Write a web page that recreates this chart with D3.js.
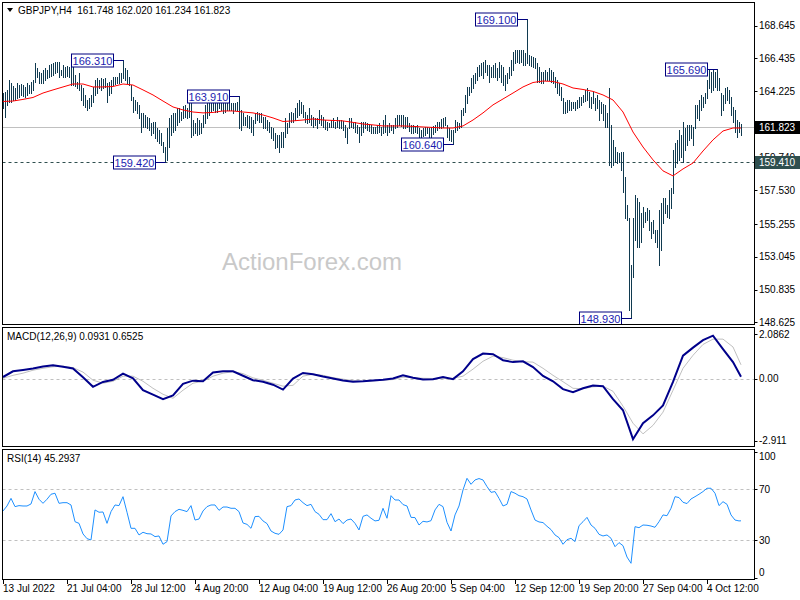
<!DOCTYPE html>
<html><head><meta charset="utf-8">
<script src="https://cdn.jsdelivr.net/npm/d3@7"></script>
<style>
body{margin:0;background:#fff;}
svg{display:block;font-family:"Liberation Sans",Arial,sans-serif;}
</style>
</head><body>
<svg id="chart" width="800" height="600"></svg>
<script>
// ---------------- DATA ----------------
const symbolName = "GBPJPY,H4";
const lastOHLC = ["161.748", "162.020", "161.234", "161.823"];

// H4 bar highs (one per bar, 13 Jul 2022 20:00 .. 7 Oct 2022 08:00)
const high = [
164.09,164.16,164.30,164.97,164.77,164.57,164.43,164.77,164.63,164.70,
164.63,164.50,164.77,164.63,164.84,164.97,166.12,165.78,165.51,165.44,
165.64,165.78,165.64,165.98,166.05,166.12,166.18,166.18,166.18,165.64,
165.98,165.85,165.91,165.85,165.98,166.12,165.31,164.84,165.44,164.63,
164.43,163.96,163.62,163.76,163.96,164.50,164.97,165.11,164.97,165.11,
165.04,165.11,164.77,164.84,164.97,165.17,165.17,165.17,165.44,165.44,
166.31,165.78,165.64,165.17,164.63,163.82,163.62,163.49,163.29,162.75,
162.75,162.61,162.48,162.41,162.07,162.14,162.14,161.73,161.60,161.40,
160.79,160.45,161.73,162.41,162.61,162.75,162.75,163.08,163.08,162.81,
163.22,163.29,163.08,163.62,163.42,162.27,162.07,162.41,162.27,162.07,
162.61,163.29,163.42,163.62,163.62,163.62,163.82,163.76,163.76,163.69,
163.62,163.96,163.62,163.55,163.42,163.42,163.42,163.49,163.91,162.95,
162.75,162.48,162.61,162.54,162.48,162.27,162.75,162.81,162.75,162.75,
162.48,162.48,162.27,162.14,161.80,161.73,161.40,161.26,161.26,161.46,
161.46,162.41,162.07,162.75,162.81,162.75,163.08,163.42,163.62,163.49,
163.29,162.81,162.61,163.08,162.61,162.48,162.41,162.41,162.95,162.61,
162.48,162.27,162.14,162.07,162.27,162.41,162.14,162.48,162.27,162.27,
162.21,161.94,161.73,162.41,162.41,162.07,162.14,161.94,161.80,162.14,
162.14,162.14,162.07,162.00,161.94,161.80,161.80,161.94,162.07,161.80,
162.27,162.61,161.94,162.07,161.94,161.94,162.41,162.61,162.61,162.61,
162.61,162.48,162.48,162.07,161.94,161.94,161.87,161.94,161.73,161.60,
161.73,161.80,161.80,161.73,161.80,161.87,161.94,162.14,162.14,162.34,
162.41,162.48,161.94,161.73,161.60,161.60,162.27,162.14,162.07,162.95,
163.08,163.96,164.50,164.50,165.11,165.31,165.44,165.85,165.98,166.12,
166.18,166.32,165.98,165.98,165.85,165.98,166.12,165.78,166.18,165.98,
165.85,165.31,165.44,165.85,166.32,166.86,166.99,166.99,166.99,166.99,
166.99,166.79,169.10,166.66,166.59,166.52,166.45,166.12,165.85,165.51,
165.51,165.64,165.51,165.78,165.64,165.51,165.17,164.97,164.77,164.50,
163.76,163.49,163.62,163.62,163.49,163.49,163.49,163.62,163.82,163.82,
163.96,164.30,164.43,164.16,163.82,164.16,163.76,163.96,163.62,163.49,
163.35,163.29,162.75,164.43,161.94,160.93,160.45,160.12,160.05,160.12,
160.12,158.43,156.54,155.66,152.50,155.66,157.22,157.01,156.74,156.00,
156.41,156.07,156.34,156.21,155.39,155.53,154.86,154.86,156.21,156.68,
157.01,157.01,156.54,157.55,157.69,160.25,160.72,160.93,161.60,161.26,
162.14,161.73,161.94,161.94,161.94,161.80,163.29,163.29,163.62,163.96,
163.82,164.09,164.97,165.64,165.51,165.64,165.51,165.69,165.11,164.09,
163.96,164.43,164.50,164.30,163.82,163.15,162.95,162.27,162.14,162.02
];
// H4 bar lows
const low = [
163.08,162.48,163.29,163.49,163.49,163.62,163.62,163.76,163.82,163.96,
163.89,163.82,163.96,164.09,164.09,164.30,164.84,165.17,164.77,164.77,
164.77,164.97,165.11,165.17,165.24,165.31,165.44,165.51,165.17,165.31,
165.17,165.17,165.24,165.17,164.63,164.63,164.57,164.43,164.30,163.62,
163.29,163.15,162.95,163.08,163.22,163.49,163.96,164.09,164.43,164.30,
164.43,164.50,163.49,163.96,164.09,164.63,164.70,164.77,164.77,164.84,
165.11,164.97,164.77,164.63,163.62,162.81,162.95,162.75,162.41,161.46,
161.80,161.80,161.73,161.60,161.26,161.40,161.06,160.86,160.72,160.59,
160.12,159.42,159.58,160.45,161.26,161.46,161.60,161.94,162.14,162.27,
162.41,162.48,162.41,162.48,161.13,161.26,161.40,161.26,161.33,161.40,
161.80,162.07,162.41,162.61,162.81,162.95,162.81,162.81,163.08,162.95,
162.75,162.81,162.95,162.95,162.95,162.75,162.95,162.95,161.73,161.60,
161.94,161.94,161.80,161.73,161.46,161.26,162.07,162.27,162.14,162.14,
161.73,161.73,161.60,161.46,161.06,160.93,160.39,160.45,160.12,160.45,
160.45,161.13,161.40,161.80,162.14,162.14,162.27,162.48,162.61,162.75,
162.48,162.14,162.07,162.14,161.94,161.80,161.94,161.73,162.07,161.94,
161.80,161.67,161.60,161.80,161.80,161.80,161.73,161.80,161.73,161.73,
161.60,161.13,160.72,161.73,161.80,161.73,161.46,161.40,160.79,161.26,
161.46,161.73,161.60,161.53,161.40,161.40,161.40,161.40,161.46,161.26,
161.40,161.46,161.26,161.46,161.60,161.40,161.73,161.80,161.94,161.87,
161.73,161.73,161.80,161.53,161.40,161.40,161.46,161.40,160.93,161.06,
161.19,161.26,161.40,161.06,161.06,161.33,161.46,161.60,161.73,161.73,
161.80,161.94,161.13,160.93,160.86,160.64,161.46,161.60,161.73,161.80,
162.61,162.81,163.42,163.96,164.16,164.43,164.77,164.97,165.24,165.31,
165.11,165.51,165.31,164.84,165.17,165.17,165.17,164.97,165.17,164.84,
164.63,164.30,164.77,165.11,165.31,165.64,166.12,166.18,166.12,166.18,
165.98,165.98,166.12,165.98,165.91,165.85,165.78,164.84,164.84,164.77,
164.77,164.97,164.97,164.97,164.84,164.77,164.50,164.09,163.96,163.62,
162.75,162.75,162.81,162.95,162.95,163.08,162.95,163.08,163.15,163.29,
163.49,163.55,163.62,163.15,163.08,163.42,162.95,163.08,162.27,162.75,
162.27,161.80,161.80,159.24,159.11,159.24,159.44,159.37,159.44,158.90,
157.42,155.66,155.53,149.46,148.93,151.69,154.18,153.71,153.71,154.05,
155.06,155.39,155.53,154.86,154.32,154.65,154.05,153.71,152.50,153.51,
155.33,156.00,155.73,155.66,156.34,157.35,159.11,159.37,159.58,159.78,
159.44,160.25,160.59,160.93,161.06,160.59,161.73,162.41,162.27,162.95,
163.15,163.42,163.76,164.43,164.16,164.30,164.50,164.30,164.30,162.61,
162.95,163.42,163.62,163.42,162.61,162.14,161.46,161.13,161.46,161.234
];
// 20-period moving average, sampled every 5 bars (+ last bar)
const maValues = [
163.52,163.55,163.66,163.79,164.09,164.30,164.50,164.70,164.70,164.50,
164.50,164.53,164.70,164.63,164.30,163.96,163.55,163.15,162.95,162.81,
162.75,162.78,162.88,162.88,162.81,162.75,162.61,162.41,162.17,162.21,
162.27,162.34,162.27,162.24,162.21,162.11,162.00,161.94,161.87,161.87,
161.87,161.84,161.80,161.77,161.73,161.73,161.87,162.27,162.75,163.29,
163.69,164.09,164.50,164.80,164.90,164.87,164.70,164.43,164.33,164.20,
163.96,163.62,162.81,161.46,160.45,159.58,158.84,158.50,158.97,159.37,
160.18,160.93,161.53,161.73,161.73
];
// MACD(12,26,9) main and signal, sampled every 5 bars (+ last bar)
const macdMain = [
0.08,0.35,0.41,0.48,0.57,0.63,0.56,0.48,0.07,-0.38,
-0.15,-0.05,0.24,0.02,-0.54,-0.75,-0.96,-0.78,-0.24,-0.09,
-0.12,0.29,0.35,0.35,0.14,-0.07,-0.14,-0.28,-0.51,0.01,
0.27,0.21,0.10,0.01,-0.08,-0.14,-0.12,-0.08,-0.05,0.01,
0.16,0.05,-0.04,-0.02,0.08,-0.02,0.35,0.92,1.18,1.15,
0.87,0.78,0.82,0.55,0.13,-0.12,-0.49,-0.63,-0.45,-0.32,
-0.35,-0.96,-1.48,-2.84,-2.09,-1.72,-1.25,-0.15,1.08,1.46,
1.81,2.02,1.39,0.78,0.0931
];
const macdSignal = [
0.02,0.16,0.26,0.40,0.49,0.56,0.59,0.52,0.31,-0.07,
-0.21,-0.12,0.12,0.12,-0.12,-0.45,-0.73,-0.92,-0.54,-0.21,
-0.12,0.12,0.26,0.33,0.24,0.04,-0.07,-0.21,-0.35,-0.31,
0.12,0.21,0.16,0.05,-0.02,-0.09,-0.12,-0.10,-0.07,-0.04,
0.07,0.05,0.02,0.01,0.02,0.02,0.12,0.45,0.82,1.06,
0.99,0.87,0.80,0.78,0.49,0.16,-0.14,-0.45,-0.47,-0.38,
-0.35,-0.59,-1.29,-2.09,-2.59,-2.19,-1.57,-0.54,0.49,1.10,
1.61,1.86,1.86,1.49,0.6525
];
// RSI(14), sampled every 2 bars (+ last bar)
const rsiValues = [
53.0,56.9,62.9,56.4,57.2,56.9,56.9,58.5,68.2,62.2,
59.0,62.2,66.1,66.9,59.0,59.5,59.5,57.7,44.6,43.3,
35.0,31.3,30.3,53.8,52.0,52.2,43.3,52.5,57.7,57.2,
64.2,52.0,39.4,39.4,34.2,36.3,35.2,35.0,32.9,33.4,
26.9,29.0,49.1,52.5,54.3,53.5,52.5,57.2,45.9,46.7,
53.0,56.4,57.7,57.7,53.5,56.1,56.1,55.1,55.1,52.5,
43.6,42.5,39.4,48.6,48.8,45.2,43.1,37.3,35.5,34.7,
38.1,56.4,57.2,61.6,62.4,59.5,57.2,58.2,52.5,50.4,
46.2,46.2,50.9,44.6,46.7,43.1,45.9,46.7,43.3,38.1,
48.8,49.9,47.3,45.2,45.7,55.1,47.3,65.0,61.6,61.6,
58.0,56.9,48.0,47.8,42.0,44.9,44.4,45.4,53.8,58.2,
56.4,44.1,37.3,49.9,56.9,69.5,78.6,73.9,77.3,78.4,
77.3,72.1,67.6,68.2,62.9,56.9,58.2,68.2,66.9,65.0,
64.2,62.4,53.8,45.9,44.4,43.9,41.0,38.4,34.2,32.1,
26.9,30.5,31.6,29.0,41.5,44.6,48.0,42.0,39.4,34.7,
33.4,34.2,31.6,25.0,28.2,25.8,16.9,12.0,40.7,39.9,
42.0,41.8,41.2,40.2,44.6,49.9,49.3,55.1,64.2,63.5,
59.8,58.8,62.4,64.2,66.1,68.2,70.8,70.8,66.9,57.2,
60.3,58.2,49.9,45.9,45.2,45.2937
];
const timeLabels = ["13 Jul 2022","21 Jul 04:00","28 Jul 12:00","4 Aug 20:00","12 Aug 04:00","19 Aug 12:00",
  "26 Aug 20:00","5 Sep 04:00","12 Sep 12:00","19 Sep 20:00","27 Sep 04:00","4 Oct 12:00"];
const barsPerTimeLabel = 32;
const priceTicks = [168.645,166.435,164.225,159.740,157.530,155.255,153.045,150.835,148.625];
const macdTickValues = [2.0862, 0.00, -2.911];
const macdTickLabels = ["2.0862", "0.00", "-2.911"];
const rsiTickValues = [100, 70, 30, 0];
const rsiLevels = [70, 30];
const annBars = [60, 81, 118, 225, 262, 314, 357];
const annValues = [166.310, 159.420, 163.910, 160.640, 169.100, 148.930, 165.690];
const currentPrice = 161.823;
const supportLevel = 159.410;
const macdLabel = "MACD(12,26,9) 0.0931 0.6525";
const rsiLabel = "RSI(14) 45.2937";
const watermark = "ActionForex.com";

// ---------------- DRAW ----------------
const svg = d3.select("#chart");
const N = high.length;
const x = d3.scaleLinear().domain([0, N - 1]).range([3, 741]);
const yP = d3.scaleLinear().domain([148.625, 168.645]).range([322.3, 25.5]);
const yM = d3.scaleLinear().domain([-2.911, 2.0862]).range([440.7, 334.3]);
const yR = d3.scaleLinear().domain([0, 100]).range([578.6, 451]);
const LEFT = 2.5, RIGHT = 754.5;
const panels = [{top: 2.5, bottom: 324.5}, {top: 327.5, bottom: 446.5}, {top: 449.5, bottom: 579.5}];
const px = i => Math.round(x(i)) + 0.5;

const defs = svg.append("defs");
panels.forEach((p, k) => {
  defs.append("clipPath").attr("id", "clip" + k).append("rect")
    .attr("x", LEFT + 0.5).attr("y", p.top + 0.5).attr("width", RIGHT - LEFT - 1).attr("height", p.bottom - p.top - 1);
});

const maIdx = d3.range(0, N, 5).concat([N - 1]);
const rsiIdx = d3.range(0, N, 2).concat([N - 1]);

// ---- main panel ----
const gMain = svg.append("g").attr("clip-path", "url(#clip0)");
gMain.append("text").attr("x", 222).attr("y", 270).attr("font-size", 24)
  .attr("fill", "#c9c9c9").text(watermark);

gMain.append("line").attr("x1", LEFT).attr("x2", RIGHT)
  .attr("y1", Math.round(yP(currentPrice)) + 0.5).attr("y2", Math.round(yP(currentPrice)) + 0.5)
  .attr("stroke", "#c0c0c0");
gMain.append("line").attr("x1", LEFT).attr("x2", RIGHT)
  .attr("y1", Math.round(yP(supportLevel)) + 0.5).attr("y2", Math.round(yP(supportLevel)) + 0.5)
  .attr("stroke", "#2f4f4f").attr("stroke-dasharray", "3,3");

gMain.append("g").selectAll("line").data(d3.range(N)).join("line")
  .attr("x1", px).attr("x2", px)
  .attr("y1", i => Math.round(yP(high[i])))
  .attr("y2", i => Math.max(Math.round(yP(low[i])), Math.round(yP(high[i])) + 1) + 1)
  .attr("stroke", "#103a50").attr("stroke-width", 1).attr("shape-rendering", "crispEdges");

gMain.append("path").datum(maIdx)
  .attr("d", d3.line().x(i => x(i)).y((i, k) => yP(maValues[k])))
  .attr("fill", "none").attr("stroke", "#ff0000").attr("stroke-width", 1);

// annotations
const ann = gMain.append("g").selectAll("g").data(annBars).join("g");
ann.append("line")
  .attr("x1", (d) => px(d) - 10).attr("x2", d => px(d))
  .attr("y1", (d, k) => Math.round(yP(annValues[k])) + 0.5)
  .attr("y2", (d, k) => Math.round(yP(annValues[k])) + 0.5)
  .attr("stroke", "#000080");
ann.append("rect")
  .attr("x", d => px(d) - 52).attr("y", (d, k) => Math.round(yP(annValues[k])) - 6)
  .attr("width", 42).attr("height", 13)
  .attr("fill", "#fff").attr("stroke", "#000080");
ann.append("text")
  .attr("x", d => px(d) - 31).attr("y", (d, k) => Math.round(yP(annValues[k])) + 5)
  .attr("text-anchor", "middle").attr("font-size", 11).attr("fill", "#1c1cb0")
  .text((d, k) => annValues[k].toFixed(3));

// header
svg.append("path").attr("d", "M7,8 L13,8 L10,12 Z").attr("fill", "#000");
svg.append("text").attr("x", 18).attr("y", 14).attr("font-size", 10).attr("fill", "#000")
  .style("white-space", "pre").text(symbolName + "  " + lastOHLC.join(" "));

// ---- MACD panel ----
const gMacd = svg.append("g").attr("clip-path", "url(#clip1)");
gMacd.append("line").attr("x1", LEFT).attr("x2", RIGHT)
  .attr("y1", Math.round(yM(0)) + 0.5).attr("y2", Math.round(yM(0)) + 0.5)
  .attr("stroke", "#c0c0c0").attr("stroke-dasharray", "3,3");
gMacd.append("path").datum(maIdx)
  .attr("d", d3.line().x(i => x(i)).y((i, k) => yM(macdSignal[k])))
  .attr("fill", "none").attr("stroke", "#c0c0c0").attr("stroke-width", 1);
gMacd.append("path").datum(maIdx)
  .attr("d", d3.line().x(i => x(i)).y((i, k) => yM(macdMain[k])))
  .attr("fill", "none").attr("stroke", "#00008b").attr("stroke-width", 2);
svg.append("text").attr("x", 7).attr("y", 340).attr("font-size", 10).text(macdLabel);

// ---- RSI panel ----
const gRsi = svg.append("g").attr("clip-path", "url(#clip2)");
gRsi.selectAll("line.lvl").data(rsiLevels).join("line")
  .attr("x1", LEFT).attr("x2", RIGHT)
  .attr("y1", d => Math.round(yR(d)) + 0.5).attr("y2", d => Math.round(yR(d)) + 0.5)
  .attr("stroke", "#c0c0c0").attr("stroke-dasharray", "3,3");
gRsi.append("path").datum(rsiIdx)
  .attr("d", d3.line().x(i => x(i)).y((i, k) => yR(rsiValues[k])))
  .attr("fill", "none").attr("stroke", "#1e90ff").attr("stroke-width", 1);
svg.append("text").attr("x", 7).attr("y", 462).attr("font-size", 10).text(rsiLabel);

// ---- frames ----
panels.forEach(p => {
  svg.append("rect").attr("x", LEFT).attr("y", p.top).attr("width", RIGHT - LEFT).attr("height", p.bottom - p.top)
    .attr("fill", "none").attr("stroke", "#000").attr("stroke-width", 1);
});

// ---- right axes ----
const axisG = svg.append("g").attr("font-size", 10).attr("fill", "#000");
axisG.selectAll("text.p").data(priceTicks).join("text")
  .attr("x", 759).attr("y", d => yP(d) + 3.5).text(d => d.toFixed(3));
axisG.selectAll("line.p").data(priceTicks).join("line")
  .attr("x1", RIGHT).attr("x2", RIGHT + 3).attr("y1", d => Math.round(yP(d)) + 0.5).attr("y2", d => Math.round(yP(d)) + 0.5)
  .attr("stroke", "#000");

function priceTag(v, fill) {
  const yy = Math.round(yP(v));
  svg.append("rect").attr("x", RIGHT + 0.5).attr("y", yy - 6).attr("width", 45).attr("height", 13).attr("fill", fill);
  svg.append("text").attr("x", 759).attr("y", yy + 4).attr("font-size", 10).attr("fill", "#fff").text(v.toFixed(3));
}
priceTag(supportLevel, "#2f4f4f");
priceTag(currentPrice, "#000");

axisG.selectAll("text.m").data(macdTickValues).join("text")
  .attr("x", 759).attr("y", d => Math.min(Math.max(yM(d), 334), 441) + 3.5)
  .text((d, k) => macdTickLabels[k]);
axisG.selectAll("line.m").data(macdTickValues).join("line")
  .attr("x1", RIGHT).attr("x2", RIGHT + 3).attr("y1", d => Math.round(yM(d)) + 0.5).attr("y2", d => Math.round(yM(d)) + 0.5)
  .attr("stroke", "#000");
axisG.selectAll("text.r").data(rsiTickValues).join("text")
  .attr("x", 759).attr("y", d => Math.min(Math.max(yR(d), 456.5), 572.5) + 3.5)
  .text(d => d);
axisG.selectAll("line.r").data(rsiTickValues).join("line")
  .attr("x1", RIGHT).attr("x2", RIGHT + 3).attr("y1", d => Math.round(Math.min(Math.max(yR(d), 452), 578)) + 0.5)
  .attr("y2", d => Math.round(Math.min(Math.max(yR(d), 452), 578)) + 0.5)
  .attr("stroke", "#000");

// ---- time axis ----
const tIdx = timeLabels.map((t, k) => k * barsPerTimeLabel);
axisG.selectAll("line.t").data(tIdx).join("line")
  .attr("x1", px).attr("x2", px).attr("y1", 580).attr("y2", 584).attr("stroke", "#000");
axisG.selectAll("text.t").data(tIdx).join("text")
  .attr("x", d => px(d) - 0.5).attr("y", 592).text((d, k) => timeLabels[k]);
</script>
</body></html>
